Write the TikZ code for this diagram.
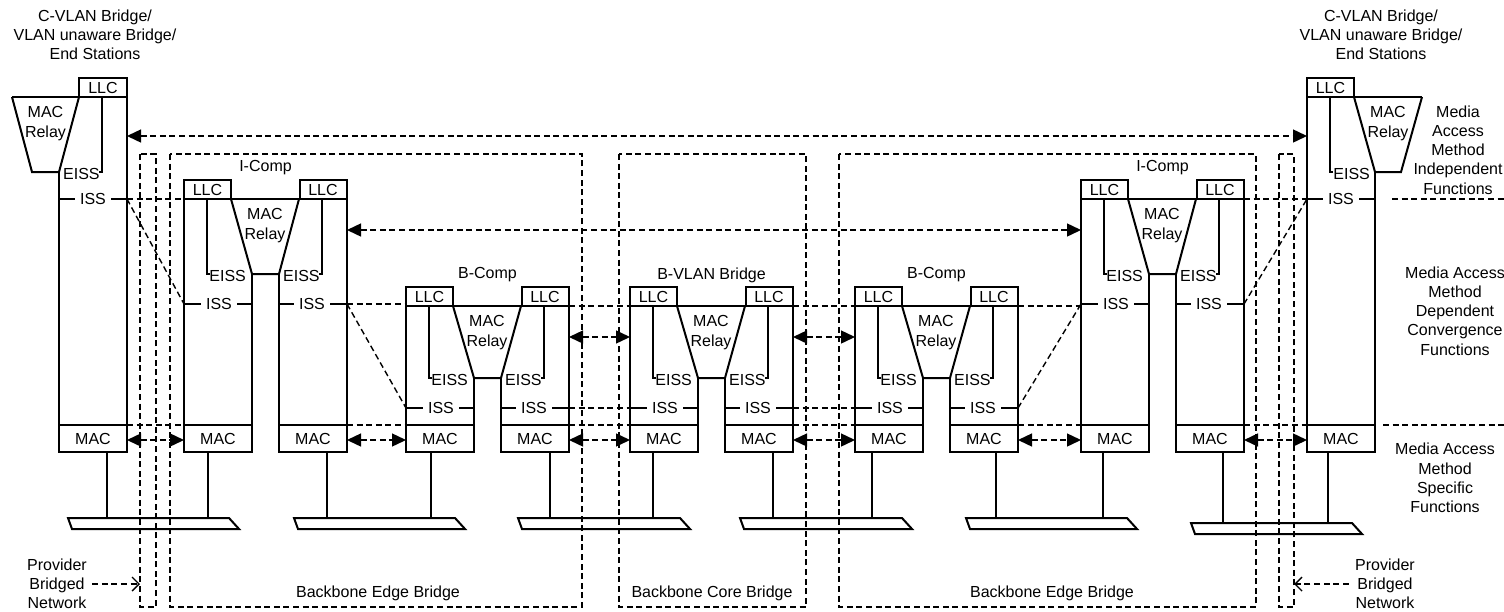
\documentclass[tikz,border=0pt]{standalone}
\usepackage{fontspec}
\setmainfont{Liberation Sans}
\usetikzlibrary{arrows.meta,calc}

% one bridge: two columns joined by a MAC relay
\newcommand\pairbr[5]{%
 \pgfmathsetmacro\pXa{#2}\pgfmathsetmacro\pXb{#2+47}\pgfmathsetmacro\pXc{#2+68}%
 \pgfmathsetmacro\pXd{#2+95}\pgfmathsetmacro\pXe{#2+115}\pgfmathsetmacro\pXf{#2+163}%
 \pgfmathsetmacro\pYt{#3}\pgfmathsetmacro\pYl{#3+19}\pgfmathsetmacro\pYb{#4}\pgfmathsetmacro\pYi{#4+30}%
 \node[llcbox] (#1-llc1) at ({(\pXa+\pXb)/2},{\pYt+9.5}) {LLC};
 \node[llcbox] (#1-llc2) at ({(\pXe+\pXf)/2},{\pYt+9.5}) {LLC};
 \draw[wire] (\pXa,\pYl) -- (\pXf,\pYl);
 \draw[wire] (\pXa,\pYt) -- (\pXa,452);
 \draw[wire] (\pXf,\pYt) -- (\pXf,452);
 \draw[wire] (\pXb,\pYl) -- (\pXc,\pYb) -- (\pXd,\pYb) -- (\pXe,\pYl);
 \draw[wire] (\pXc,\pYb) -- (\pXc,452);
 \draw[wire] (\pXd,\pYb) -- (\pXd,452);
 \node[macbox] (#1-mac1) at ({(\pXa+\pXc)/2},438.5) {MAC};
 \node[macbox] (#1-mac2) at ({(\pXd+\pXf)/2},438.5) {MAC};
 \draw[wire] ({\pXa+23},\pYl) -- ({\pXa+23},\pYb) -- ++(3,0);
 \draw[wire] ({\pXa+138},\pYl) -- ({\pXa+138},\pYb) -- ++(-3,0);
 \node[lbl,anchor=west] (#1-eiss1) at ({\pXa+25},{\pYb+1.5}) {EISS};
 \node[lbl,anchor=east] (#1-eiss2) at ({\pXa+136},{\pYb+1.5}) {EISS};
 \draw[wire] (\pXa,\pYi) -- (\pXc,\pYi);
 \node[issn] (#1-iss1) at ({(\pXa+\pXc)/2+1},\pYi) {ISS};
 \draw[wire] (\pXd,\pYi) -- (\pXf,\pYi);
 \node[issn] (#1-iss2) at ({(\pXd+\pXf)/2-1},\pYi) {ISS};
 \node[lbl] (#1-relay) at ({(\pXb+\pXe)/2},{\pYl+26.5}) {MAC\\Relay};
 \node[lbl] (#1-name) at ({(\pXa+\pXf)/2},{\pYt-12}) {#5};
 \coordinate (#1-ll) at (\pXa,\pYl); \coordinate (#1-rl) at (\pXf,\pYl);
 \coordinate (#1-li) at (\pXa,\pYi); \coordinate (#1-ri) at (\pXf,\pYi);
 \coordinate (#1-lm) at (\pXa,425);  \coordinate (#1-rm) at (\pXf,425);
 \coordinate (#1-lma) at (\pXa,440); \coordinate (#1-rma) at (\pXf,440);
 \coordinate (#1-la) at (\pXa,{\pYt+50}); \coordinate (#1-ra) at (\pXf,{\pYt+50});
}
% a bus under two MAC boxes
\newcommand\busbar[4]{%
 \draw[wire] (#2,#4) coordinate (#1-t) -- (#3,#4) -- ({#3+10},{#4+11}) -- ({#2+4},{#4+11}) -- cycle;
}
\newcommand\stemto[3]{%
 \path ([xshift=#2]#1.south) coordinate (tmpstem);
 \draw[stemln] (tmpstem) -- (tmpstem |- #3);
}

\begin{document}
\begin{tikzpicture}[x=0.5pt,y=-0.5pt,
  every node/.style={font=\fontsize{8}{9.6}\selectfont, inner sep=0pt},
  wire/.style={line width=1pt, line join=miter},
  stemln/.style={line width=0.75pt},
  dsh/.style={line width=0.7pt, dash pattern=on 3pt off 1.8pt},
  darr/.style={dsh, {Triangle[length=7pt,width=6.5pt]}-{Triangle[length=7pt,width=6.5pt]}},
  oarr/.style={dsh, -{Straight Barb[length=3.5pt,width=7pt]}},
  llcbox/.style={draw, line width=1pt, minimum width=23.5pt, minimum height=9.5pt, inner sep=0pt},
  macbox/.style={draw, line width=1pt, minimum width=34pt, minimum height=13.5pt, inner sep=0pt},
  issn/.style={fill=white, inner xsep=2.5pt, inner ysep=1pt},
  lbl/.style={align=center},
]
\useasboundingbox (0,0) rectangle (1504,611);

% dashed enclosures
\draw[dsh] (140,154) rectangle (156,607);
\draw[dsh] (170,154) rectangle (582,607);
\draw[dsh] (619,154) rectangle (806,607);
\draw[dsh] (839,154) rectangle (1256,607);
\draw[dsh] (1279,154) rectangle (1294,607);
\coordinate (provL-w) at (140,584);
\coordinate (provR-e) at (1294,584);

% left end station
\node[llcbox, minimum width=24pt] (eL-llc) at (103,87.5) {LLC};
\draw[wire] (12,97) -- (127,97);
\draw[wire] (12,97) -- (32,172) -- (59,172) -- (79,97);
\draw[wire] (59,172) -- (59,452);
\draw[wire] (127,78) -- (127,452);
\draw[wire] (102,97) -- (102,172) -- ++(-3,0);
\node[lbl,anchor=east] (eL-eiss) at (100,173.5) {EISS};
\draw[wire] (59,199) -- (127,199);
\node[issn] (eL-iss) at (93,199) {ISS};
\node[macbox] (eL-mac) at (93,438.5) {MAC};
\node[lbl] (eL-relay) at (45.5,123.5) {MAC\\Relay};
\coordinate (eL-i) at (127,199); \coordinate (eL-m) at (127,425);
\coordinate (eL-ma) at (127,440); \coordinate (eL-a) at (127,136);

% right end station
\node[llcbox] (eR-llc) at (1330.5,87.5) {LLC};
\draw[wire] (1307,97) -- (1422,97);
\draw[wire] (1354,97) -- (1375,172) -- (1401,172) -- (1422,97);
\draw[wire] (1375,172) -- (1375,452);
\draw[wire] (1307,78) -- (1307,452);
\draw[wire] (1330,97) -- (1330,172) -- ++(3,0);
\node[lbl,anchor=west] (eR-eiss) at (1333,173.5) {EISS};
\draw[wire] (1307,199) -- (1375,199);
\node[issn] (eR-iss) at (1341,199) {ISS};
\node[macbox] (eR-mac) at (1341,438.5) {MAC};
\node[lbl] (eR-relay) at (1388,123.5) {MAC\\Relay};
\coordinate (eR-i) at (1307,199); \coordinate (eR-m) at (1307,425);
\coordinate (eR-ma) at (1307,440); \coordinate (eR-a) at (1307,136);

% bridges
\pairbr{ICL}{184}{180}{274}{I-Comp}
\pairbr{BCL}{406}{287}{378}{B-Comp}
\pairbr{BV}{630}{287}{378}{B-VLAN Bridge}
\pairbr{BCR}{855}{287}{378}{B-Comp}
\pairbr{ICR}{1081}{180}{274}{I-Comp}

% buses and stems
\busbar{b1}{68}{229}{518}
\busbar{b2}{294}{455}{518}
\busbar{b3}{518}{680}{518}
\busbar{b4}{740}{902}{518}
\busbar{b5}{966}{1127}{518}
\busbar{b6}{1191}{1352}{523}
\stemto{eL-mac}{7pt}{b1-t}
\stemto{ICL-mac1}{-5pt}{b1-t}
\stemto{ICL-mac2}{7pt}{b2-t}
\stemto{BCL-mac1}{-4.5pt}{b2-t}
\stemto{BCL-mac2}{7.5pt}{b3-t}
\stemto{BV-mac1}{-5.5pt}{b3-t}
\stemto{BV-mac2}{7pt}{b4-t}
\stemto{BCR-mac1}{-8.5pt}{b4-t}
\stemto{BCR-mac2}{6pt}{b5-t}
\stemto{ICR-mac1}{-6pt}{b5-t}
\stemto{ICR-mac2}{6.5pt}{b6-t}
\stemto{eR-mac}{-6.5pt}{b6-t}

% layer connections
\draw[dsh] (eL-i) -- (eL-i -| ICL-ll);
\draw[dsh] (eL-i) -- (ICL-li);
\draw[dsh] (eL-m) -- (ICL-lm);
\draw[darr] (eL-ma) -- (ICL-lma);

\draw[dsh] (ICL-ri) -- (ICL-ri -| BCL-ll);
\draw[dsh] (ICL-ri) -- (BCL-li);
\draw[dsh] (ICL-rm) -- (BCL-lm);
\draw[darr] (ICL-rma) -- (BCL-lma);

\draw[dsh] (BCL-rl) -- (BV-ll);
\draw[dsh] (BCL-ri) -- (BV-li);
\draw[dsh] (BCL-rm) -- (BV-lm);
\draw[darr] (BCL-ra) -- (BV-la);
\draw[darr] (BCL-rma) -- (BV-lma);

\draw[dsh] (BV-rl) -- (BCR-ll);
\draw[dsh] (BV-ri) -- (BCR-li);
\draw[dsh] (BV-rm) -- (BCR-lm);
\draw[darr] (BV-ra) -- (BCR-la);
\draw[darr] (BV-rma) -- (BCR-lma);

\draw[dsh] (BCR-rl) -- (BCR-rl -| ICR-li);
\draw[dsh] (BCR-ri) -- (ICR-li);
\draw[dsh] (BCR-rm) -- (ICR-lm);
\draw[darr] (BCR-rma) -- (ICR-lma);

\draw[dsh] (ICR-rl) -- (eR-i);
\draw[dsh] (ICR-ri) -- (eR-i);
\draw[dsh] (ICR-rm) -- (eR-m);
\draw[darr] (ICR-rma) -- (eR-ma);

\draw[darr] (eL-a) -- (eR-a);
\draw[darr] (ICL-ra) -- (ICR-la);

% right-hand layer lines
\coordinate (mi1) at (1392,199); \coordinate (mi2) at (1504,199);
\coordinate (ms1) at (1383,425); \coordinate (ms2) at (1504,425);
\draw[dsh] (mi1) -- (mi2);
\draw[dsh] (ms1) -- (ms2);

% texts
\node[lbl] (tL) at (95,35) {C-VLAN Bridge/\\VLAN unaware Bridge/\\End Stations};
\node[lbl] (tR) at (1381,35) {C-VLAN Bridge/\\VLAN unaware Bridge/\\End Stations};
\node[lbl] (fInd) at (1458,150) {Media\\Access\\Method\\Independent\\Functions};
\node[lbl] (fDep) at (1455,311) {Media Access\\Method\\Dependent\\Convergence\\Functions};
\node[lbl] (fSpec) at (1445,478) {Media Access\\Method\\Specific\\Functions};
\node[lbl] (bebL) at (378,593) {Backbone Edge Bridge};
\node[lbl] (bcb) at (712,593) {Backbone Core Bridge};
\node[lbl] (bebR) at (1052,593) {Backbone Edge Bridge};
\node[lbl] (pbnL) at (57,584) {Provider\\Bridged\\Network};
\node[lbl] (pbnR) at (1385,584) {Provider\\Bridged\\Network};
\draw[oarr] ([xshift=2.5pt]pbnL.east) -- (provL-w);
\draw[oarr] ([xshift=-3pt]pbnR.west) -- (provR-e);
\end{tikzpicture}
\end{document}
